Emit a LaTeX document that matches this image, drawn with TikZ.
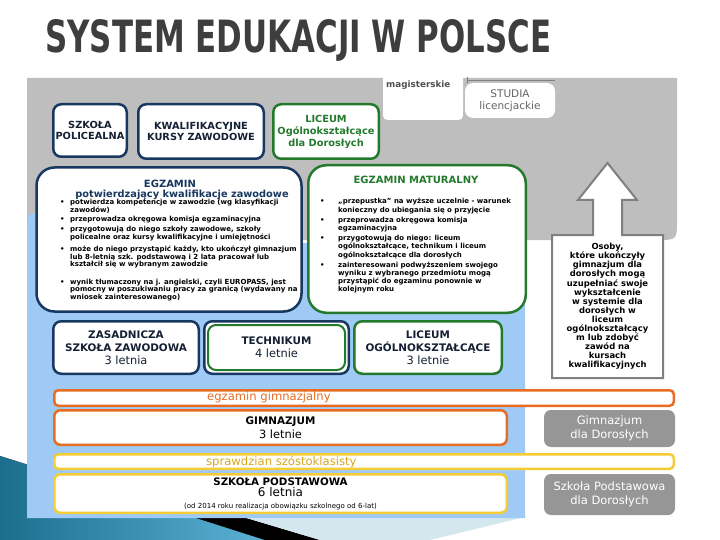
\documentclass[tikz,border=0pt]{standalone}
\usepackage{fontspec}
\setmainfont{DejaVu Sans}
\usepackage{graphicx}
\usetikzlibrary{positioning}

\definecolor{navy}{RGB}{24,56,96}
\definecolor{navyink}{RGB}{22,32,52}
\definecolor{grn}{RGB}{36,122,44}
\definecolor{orng}{RGB}{232,108,34}
\definecolor{ylw}{RGB}{244,204,54}
\definecolor{ylwink}{RGB}{214,168,30}
\definecolor{zone}{RGB}{190,190,190}
\definecolor{sky}{RGB}{160,202,246}
\definecolor{adult}{RGB}{150,150,150}
\definecolor{rim}{RGB}{128,128,128}
\definecolor{titleink}{RGB}{62,62,62}
\definecolor{tealdark}{RGB}{28,110,142}
\definecolor{teallight}{RGB}{90,178,212}
\definecolor{mist}{RGB}{212,230,238}
\definecolor{maginink}{RGB}{80,80,80}
\definecolor{studiaink}{RGB}{100,100,100}

\tikzset{
  plate/.style={rectangle, rounded corners=8pt, line width=2.5pt, fill=white,
    inner sep=0pt, align=center},
  navybox/.style={plate, draw=navy, text=navyink},
  greenbox/.style={plate, draw=grn, text=grn},
  capsfont/.style={font=\bfseries\fontsize{9.8}{11.7}\selectfont},
  rowfont/.style={font=\bfseries\fontsize{10.4}{13}\selectfont},
  barbox/.style={rectangle, rounded corners=4pt, line width=2.5pt, fill=white,
    inner sep=0pt},
  adultbox/.style={rectangle, rounded corners=7pt, fill=adult, text=white,
    inner sep=0pt, align=center, font=\fontsize{11.5}{13.5}\selectfont},
  listfont/.style={font=\bfseries\fontsize{7}{7.2}\selectfont, text=black,
    inner sep=0pt, anchor=north west}
}

\begin{document}
\begin{tikzpicture}[x=1pt,y=-1pt]
		%%%%% START %%%%%
		\useasboundingbox (0,0) rectangle (720,540);
		
		% corner decoration
		\fill[left color=tealdark, right color=teallight]
		  (0,456) -- (193,517) -- (265,540) -- (0,540) -- cycle;
		\fill[black] (120,494) -- (193,517) -- (265,540) -- (320,540) -- (243,517) -- cycle;
		\fill[mist] (243,517) -- (525,517) -- (430,540) -- (320,540) -- cycle;
		
		% title
		\node[anchor=south west, inner sep=0pt, text=titleink] (title) at (45,62)
		  {\resizebox{506pt}{33pt}{\bfseries SYSTEM EDUKACJI W POLSCE}};
		
		% grey and blue zones
		\fill[zone] (27,78) -- (677,78) -- (677,220) .. controls (677,240) .. (657,240) -- (27,240) -- cycle;
		\fill[sky] (27,518) -- (27,230) .. controls (27,213) .. (44,213) -- (300,213) -- (300,243)
		  -- (525,243) -- (525,518) -- cycle;
		
		% studia
		\fill[white] (383,70) -- (463,70) -- (463,110) .. controls (463,120) .. (453,120)
		  -- (393,120) .. controls (383,120) .. (383,110) -- cycle;
		\node[anchor=west, inner sep=0pt, text=maginink,
		  font=\bfseries\fontsize{8.8}{10}\selectfont] (magister) at (386,85) {magisterskie};
		\draw[rim, line width=0.6pt] (467,77) -- (467,83) (467,80) -- (555,80);
		\node[rectangle, rounded corners=8pt, fill=white, minimum width=90, minimum height=35,
		  inner sep=0pt, align=center, text=studiaink,
		  font=\fontsize{10.5}{11.5}\selectfont] (licencjat) at (510,100.5) {STUDIA\\licencjackie};
		
		% upper row
		\node[navybox, capsfont, minimum width=73.5, minimum height=52.5] (policealna) at (90,130.5)
		  {SZKOŁA\\POLICEALNA};
		\node[navybox, capsfont, minimum width=125.5, minimum height=54.5] (kursy) at (201,131.5)
		  {KWALIFIKACYJNE\\KURSY ZAWODOWE};
		\node[greenbox, font=\bfseries\fontsize{9.8}{12}\selectfont, minimum width=105.5, minimum height=54.5]
		  (lodorosli) at (326,131.5) {LICEUM\\Ogólnokształcące\\dla Dorosłych};
		
		% egzamin zawodowy
		\node[navybox, rounded corners=18pt, minimum width=265, minimum height=144] (zawodowy) at (169,239.5) {};
		\node[text=navy, font=\bfseries\fontsize{10}{12}\selectfont, inner sep=0pt] (zawtitle) at (170,183.5) {EGZAMIN};
		\node[text=navy, font=\bfseries\fontsize{9.8}{12}\selectfont, inner sep=0pt] (zawsub) at (182,194.5)
		  {potwierdzający kwalifikacje zawodowe};
		\node[listfont] (zawlist) at (60,199) {\begin{tabular}{@{}p{10pt}@{}l@{}}
		  \textbullet & potwierdza kompetencje w zawodzie (wg klasyfikacji\\
		              & zawodów)\\[1.5pt]
		  \textbullet & przeprowadza okręgowa komisja egzaminacyjna\\[2.5pt]
		  \textbullet & przygotowują do niego szkoły zawodowe, szkoły\\
		              & policealne oraz kursy kwalifikacyjne i umiejętności\\[5pt]
		  \textbullet & może do niego przystąpić każdy, kto ukończył gimnazjum\\
		              & lub 8-letnią szk. podstawową i 2 lata pracował lub\\
		              & kształcił się w wybranym zawodzie\\[10pt]
		  \textbullet & wynik tłumaczony na j. angielski, czyli  EUROPASS, jest\\
		              & pomocny w poszukiwaniu pracy za granicą (wydawany na\\
		              & wniosek zainteresowanego)
		\end{tabular}};
		
		% egzamin maturalny
		\node[greenbox, rounded corners=18pt, minimum width=217.5, minimum height=147.5] (matura) at (417,239) {};
		\node[text=grn, font=\bfseries\fontsize{10}{12}\selectfont, inner sep=0pt] (maturatitle) at (416,180)
		  {EGZAMIN MATURALNY};
		\node[listfont, font=\bfseries\fontsize{7}{8.2}\selectfont] (maturalist) at (320,198) {\begin{tabular}{@{}p{18pt}@{}l@{}}
		  \textbullet & „przepustka” na wyższe uczelnie - warunek\\
		              & konieczny do ubiegania się o przyjęcie\\[2pt]
		  \textbullet & przeprowadza okręgowa komisja\\
		              & egzaminacyjna\\[2pt]
		  \textbullet & przygotowują do niego: liceum\\
		              & ogólnokształcące, technikum i liceum\\
		              & ogólnokształcące dla dorosłych\\[2pt]
		  \textbullet & zainteresowani podwyższeniem swojego\\
		              & wyniku z wybranego przedmiotu mogą\\
		              & przystąpić  do egzaminu ponownie w\\
		              & kolejnym roku
		\end{tabular}};
		
		% lower row
		\node[navybox, rowfont, minimum width=145.5, minimum height=52.5] (zasadnicza) at (126,347.5)
		  {ZASADNICZA\\SZKOŁA ZAWODOWA\\\textmd{\fontsize{11.4}{13}\selectfont 3 letnia}};
		\node[navybox, minimum width=144.5, minimum height=52.5] (techrim) at (276.5,347.5) {};
		\node[greenbox, rowfont, text=navyink, line width=2pt, minimum width=137, minimum height=45]
		  (technikum) at (276.5,347.5) {TECHNIKUM\\\textmd{\fontsize{11.4}{13}\selectfont 4 letnie}};
		\node[greenbox, rowfont, text=navyink, minimum width=147.5, minimum height=52.5] (liceum) at (428,347.5)
		  {LICEUM\\OGÓLNOKSZTAŁCĄCE\\\textmd{\fontsize{11.4}{13}\selectfont 3 letnie}};
		
		% adults
		\draw[rim, line width=2pt, fill=white] (552,378) -- (552,235) -- (593,235) -- (593,200) -- (578,200)
		  -- (607.5,163) -- (637,200) -- (622,200) -- (622,235) -- (663,235) -- (663,378) -- cycle;
		\node[align=center, inner sep=0pt, font=\bfseries\fontsize{8.4}{9.1}\selectfont] (osoby) at (607.5,306.5)
		  {Osoby,\\które ukończyły\\gimnazjum dla\\dorosłych mogą\\uzupełniać swoje\\wykształcenie\\w systemie dla\\
		   dorosłych w\\liceum\\ogólnokształcący\\m lub zdobyć\\zawód na\\kursach\\kwalifikacyjnych};
		
		% gimnazjum
		\node[barbox, draw=orng, minimum width=619.5, minimum height=15.5] (egzgim) at (364,398) {};
		\node[anchor=west, inner sep=0pt, text=orng, font=\fontsize{11.6}{13}\selectfont] (egzgimtxt) at (207,397.5)
		  {egzamin gimnazjalny};
		\node[barbox, draw=orng, rounded corners=6pt, align=center, minimum width=452.5, minimum height=34.5,
		  font=\bfseries\fontsize{10.4}{14}\selectfont] (gimnazjum) at (280.5,427.5)
		  {GIMNAZJUM\\\textmd{\fontsize{11.4}{14}\selectfont 3 letnie}};
		\node[adultbox, minimum width=131, minimum height=37] (gimdorosli) at (609.5,428.5)
		  {Gimnazjum\\dla Dorosłych};
		
		% podstawowa
		\node[barbox, draw=ylw, minimum width=619.5, minimum height=14.5] (sprawdzian) at (364,461.5) {};
		\node[anchor=west, inner sep=0pt, text=ylwink, font=\fontsize{11.6}{13}\selectfont] (sprawdziantxt) at (206,462)
		  {sprawdzian szóstoklasisty};
		\node[barbox, draw=ylw, rounded corners=6pt, align=center, minimum width=452.5, minimum height=38.5,
		  font=\bfseries\fontsize{10.3}{11.5}\selectfont] (podstawowa) at (280.5,493.5)
		  {SZKOŁA PODSTAWOWA\\\textmd{\fontsize{12}{11.5}\selectfont 6 letnia}\\
		   \textmd{\fontsize{7}{10.5}\selectfont (od 2014 roku realizacja obowiązku szkolnego od 6-lat)}};
		\node[adultbox, minimum width=131, minimum height=41] (spdorosli) at (609.5,494.5)
		  {Szkoła Podstawowa\\dla Dorosłych};
		
		%%%%% END %%%%%
\end{tikzpicture}
\end{document}
